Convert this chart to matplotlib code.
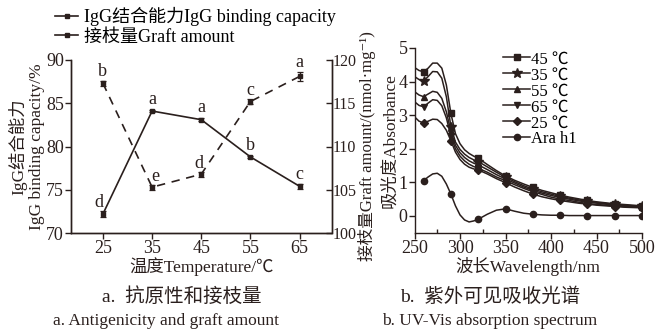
import matplotlib
matplotlib.use("Agg")
import matplotlib.pyplot as plt
from matplotlib.lines import Line2D
from matplotlib.ticker import MultipleLocator

plt.rcParams['font.family'] = ['Liberation Serif', 'Noto Sans CJK SC', 'DejaVu Serif']
plt.rcParams['axes.unicode_minus'] = False

C = '#2a1f1d'
FS = 12.5

# ---------------- panel a data ----------------
temps = [25, 35, 45, 55, 65]
igg = [72.2, 84.1, 83.1, 78.8, 75.4]
igg_err = [0.3, 0.15, 0.15, 0.15, 0.3]
igg_letters = ['d', 'a', 'a', 'b', 'c']
graft = [117.3, 105.3, 106.8, 115.2, 118.1]
graft_err = [0.3, 0.3, 0.3, 0.3, 0.5]
graft_letters = ['b', 'e', 'd', 'c', 'a']

# ---------------- panel b data ----------------
wl = [250, 255, 260, 265, 270, 275, 280, 285, 290, 295, 300, 305, 310, 315, 320,
      330, 340, 350, 360, 370, 380, 390, 400, 410, 420, 430, 440, 450, 460, 470,
      480, 490, 500]
marker_wl = [260, 290, 320, 350, 380, 410, 440, 470, 500]
abs_45 = [4.42, 4.33, 4.29, 4.40, 4.55, 4.55, 4.40, 3.90, 3.05, 2.45, 2.15, 1.97, 1.86, 1.78, 1.72,
          1.53, 1.35, 1.19, 1.06, 0.95, 0.85, 0.76, 0.69, 0.62, 0.56, 0.51, 0.46, 0.42, 0.39, 0.36,
          0.34, 0.32, 0.30]
abs_35 = [4.15, 4.06, 4.02, 4.15, 4.30, 4.29, 4.10, 3.55, 2.66, 2.20, 1.98, 1.84, 1.74, 1.67, 1.62,
          1.46, 1.30, 1.15, 1.02, 0.90, 0.80, 0.72, 0.65, 0.58, 0.53, 0.48, 0.43, 0.40, 0.37, 0.34,
          0.32, 0.30, 0.29]
abs_55 = [3.70, 3.60, 3.55, 3.63, 3.71, 3.68, 3.50, 3.10, 2.52, 2.10, 1.88, 1.74, 1.64, 1.57, 1.52,
          1.38, 1.23, 1.10, 0.98, 0.86, 0.76, 0.68, 0.61, 0.55, 0.50, 0.45, 0.41, 0.38, 0.35, 0.32,
          0.30, 0.28, 0.27]
abs_65 = [3.40, 3.29, 3.25, 3.36, 3.46, 3.44, 3.28, 2.92, 2.38, 2.00, 1.78, 1.64, 1.54, 1.47, 1.42,
          1.30, 1.16, 1.05, 0.93, 0.82, 0.72, 0.64, 0.56, 0.50, 0.46, 0.41, 0.37, 0.34, 0.32, 0.30,
          0.28, 0.27, 0.26]
abs_25 = [2.95, 2.82, 2.77, 2.82, 2.88, 2.87, 2.75, 2.55, 2.24, 1.90, 1.68, 1.54, 1.45, 1.40, 1.37,
          1.25, 1.11, 0.99, 0.86, 0.75, 0.65, 0.57, 0.51, 0.46, 0.42, 0.38, 0.35, 0.32, 0.30, 0.28,
          0.26, 0.25, 0.24]
wl_ara = wl[2:]
abs_ara = [1.05, 1.16, 1.25, 1.27, 1.18, 0.95, 0.65, 0.30, 0.03, -0.12, -0.18, -0.15, -0.10,
           0.05, 0.17, 0.21, 0.14, 0.08, 0.05, 0.03, 0.02, 0.02, 0.01, 0.01, 0.01, 0.01, 0.01,
           0.01, 0.01, 0.01, 0.01]

series = [('45 ℃', 's', abs_45), ('35 ℃', '*', abs_35), ('55 ℃', '^', abs_55),
          ('65 ℃', 'v', abs_65), ('25 ℃', 'D', abs_25)]

W, H = 658, 336
fig = plt.figure(figsize=(W / 100, H / 100), dpi=100)

def fx(px):
    return px / W

def fy(py):
    return 1 - py / H

# ---------------- panel a ----------------
axL = fig.add_axes([fx(71), fy(233), fx(331.5 - 71), (233 - 60) / H])
axR = axL.twinx()

axL.errorbar(temps, igg, yerr=igg_err, color=C, lw=1.2, marker='s', ms=2.5,
             capsize=2, elinewidth=0.9, capthick=0.9)
axR.errorbar(temps, graft, yerr=graft_err, color=C, lw=1.2, ls=(0, (5, 4)), marker='s',
             ms=2.5, capsize=2, elinewidth=0.9, capthick=0.9)

igg_dx = [-3, 0, 0, 0, 0]
for t, v, s, dx in zip(temps, igg, igg_letters, igg_dx):
    axL.annotate(s, (t, v), xytext=(dx, 8.5), textcoords='offset points',
                 ha='center', va='center', fontsize=13, color=C)
graft_dx = [0, 2, -2, 0, 0]
graft_dy = [8.5, 7.5, 8, 8, 10]
for t, v, s, dx, dy in zip(temps, graft, graft_letters, graft_dx, graft_dy):
    axR.annotate(s, (t, v), xytext=(dx, dy), textcoords='offset points',
                 ha='center', va='center', fontsize=13, color=C)

axL.set_xlim(18.5, 71.5)
axL.set_ylim(70, 90)
axR.set_ylim(100, 120)
axL.set_xticks(temps)
axL.set_yticks([70, 75, 80, 85, 90])
axR.set_yticks([100, 105, 110, 115, 120])
axL.spines['top'].set_visible(False)
axR.spines['top'].set_visible(False)
for a in (axL, axR):
    for sp in a.spines.values():
        sp.set_color(C)
        sp.set_linewidth(1.0)
axL.tick_params(axis='both', direction='out', length=4, width=1, colors=C,
                labelsize=FS + 0.5, pad=1)
axR.tick_params(axis='y', direction='in', length=4, width=1, colors=C,
                labelsize=11.5, pad=0.8)
axL.set_xlabel('温度Temperature/℃', fontsize=FS, color=C, labelpad=0)
axL.set_ylabel('IgG结合能力\nIgG binding capacity/%', fontsize=FS, color=C,
               labelpad=1, linespacing=1.1)
axR.set_ylabel('接枝量Graft amount/(nmol·mg⁻¹)', fontsize=12, color=C, labelpad=1)

h1 = Line2D([], [], color=C, lw=1.2, marker='s', ms=2.5)
h2 = Line2D([], [], color=C, lw=1.2, marker='s', ms=2.5)
fig.legend([h1, h2], ['IgG结合能力IgG binding capacity', '接枝量Graft amount'],
           loc='upper left', bbox_to_anchor=(fx(53), fy(5)), frameon=False,
           fontsize=13, handlelength=1.3, handletextpad=0.3, labelspacing=0.15,
           borderpad=0.1, borderaxespad=0)

fig.text(fx(182), fy(297), 'a.  抗原性和接枝量', ha='center', va='center', fontsize=14, color=C)
fig.text(fx(166), fy(321), 'a. Antigenicity and graft amount', ha='center', va='center',
         fontsize=FS, color=C)

# ---------------- panel b ----------------
axB = fig.add_axes([fx(414.5), fy(232.7), fx(642 - 414.5), (232.7 - 48) / H])
idx = [wl.index(w) for w in marker_wl]
for lab, mk, vals in series:
    ms = 7 if mk == '*' else 4.5
    axB.plot(wl, vals, color=C, lw=1.1, marker=mk, ms=ms, markevery=idx, label=lab)
idx_ara = [wl_ara.index(w) for w in marker_wl]
axB.plot(wl_ara, abs_ara, color=C, lw=1.1, marker='o', ms=4.5, markevery=idx_ara,
         label='Ara h1')

axB.set_xlim(250, 500)
axB.set_ylim(-0.5, 5)
axB.set_xticks([250, 300, 350, 400, 450, 500])
axB.xaxis.set_minor_locator(MultipleLocator(25))
axB.set_yticks([0, 1, 2, 3, 4, 5])
axB.spines['top'].set_visible(False)
axB.spines['right'].set_visible(False)
for sp in axB.spines.values():
    sp.set_color(C)
    sp.set_linewidth(1.0)
axB.tick_params(axis='both', which='major', direction='out', length=4, width=1,
                colors=C, labelsize=FS + 0.5, pad=1)
axB.tick_params(axis='x', which='minor', direction='in', length=3, width=1, colors=C)
axB.set_xlabel('波长Wavelength/nm', fontsize=FS, color=C, labelpad=0)
axB.set_ylabel('吸光度Absorbance', fontsize=FS, color=C, labelpad=0)
axB.legend(loc='upper left', bbox_to_anchor=((500 - 414.5) / (642 - 414.5), 1.0),
           frameon=False, fontsize=12, handlelength=1.6, handletextpad=0.05,
           labelspacing=0.0, borderpad=0, borderaxespad=0.2)

fig.text(fx(490), fy(297), 'b.  紫外可见吸收光谱', ha='center', va='center', fontsize=14, color=C)
fig.text(fx(490), fy(321), 'b. UV-Vis absorption spectrum', ha='center', va='center',
         fontsize=FS, color=C)

fig.savefig('out.png', dpi=100)
